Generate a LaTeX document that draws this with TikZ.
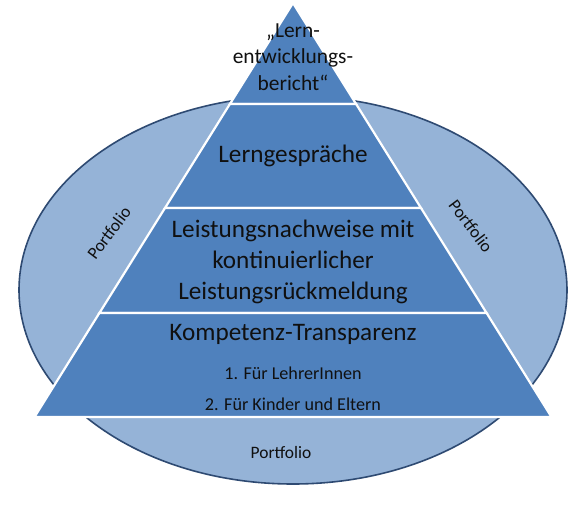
\documentclass[tikz,border=0pt]{standalone}
\usepackage{fontspec}
\setmainfont{Carlito}
\definecolor{pyr}{HTML}{4F81BD}
\definecolor{ell}{HTML}{95B3D7}
\definecolor{ellline}{HTML}{2E4A72}
\definecolor{txt}{HTML}{101010}
\tikzset{
  layer/.style={fill=pyr, draw=white, line width=2.2bp, line join=miter},
  big/.style={text=txt, font=\fontsize{25.3}{31}\selectfont, align=center, inner sep=0pt},
  top/.style={text=txt, font=\fontsize{21.5}{26.5}\selectfont, align=center, inner sep=0pt},
  small/.style={text=txt, font=\fontsize{18.2}{20}\selectfont, inner sep=0pt},
  port/.style={text=txt, font=\fontsize{17.5}{19}\selectfont, inner sep=0pt}
}
\begin{document}
\begin{tikzpicture}[x=1bp,y=-1bp]
\useasboundingbox (0,0) rectangle (585,523);
% ellipse
\draw[fill=ell, draw=ellline, line width=1.6bp] (293,290) ellipse [x radius=274, y radius=194];
% pyramid layers
\coordinate (A) at (293,3);
\coordinate (L1) at (229.9,104); \coordinate (R1) at (356.1,104);
\coordinate (L2) at (165,208);   \coordinate (R2) at (421,208);
\coordinate (L3) at (99.4,313);  \coordinate (R3) at (486.6,313);
\coordinate (L4) at (34.5,417);  \coordinate (R4) at (551.5,417);
\draw[layer] (A) -- (R1) -- (L1) -- cycle;
\draw[layer] (L1) -- (R1) -- (R2) -- (L2) -- cycle;
\draw[layer] (L2) -- (R2) -- (R3) -- (L3) -- cycle;
\draw[layer] (L3) -- (R3) -- (R4) -- (L4) -- cycle;
% texts
\node[top] (t1) at (293,57) {„Lern-\\entwicklungs-\\bericht“};
\node[big] (t2) at (293,156) {Lerngespräche};
\node[big] (t3) at (293,262) {Leistungsnachweise mit\\kontinuierlicher\\Leistungsrückmeldung};
\node[big] (t4) at (293,334) {Kompetenz-Transparenz};
\node[small] (t5) at (293,373) {1. Für LehrerInnen};
\node[small] (t6) at (293,404) {2. Für Kinder und Eltern};
\node[port] (p1) at (281,453) {Portfolio};
\node[port, rotate=53] (p2) at (109,233) {Portfolio};
\node[port, rotate=-53] (p3) at (471,226) {Portfolio};
\end{tikzpicture}
\end{document}
